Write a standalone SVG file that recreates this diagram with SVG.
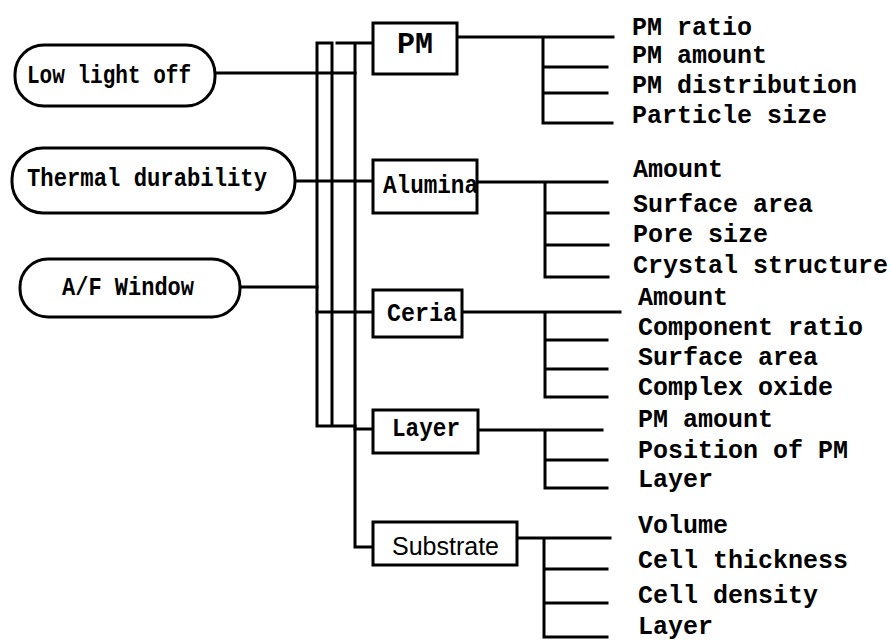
<svg xmlns="http://www.w3.org/2000/svg" width="891" height="641" viewBox="0 0 891 641">
<style>
.ln{fill:none;stroke:#000;stroke-width:3;stroke-linecap:square}
.bx{fill:#fff;stroke:#000;stroke-width:3}
.t{font-family:"Liberation Mono",monospace;fill:#000;font-weight:bold}
.r{font-size:25px}
.l{font-size:26px}
.s{font-family:"Liberation Sans",Arial,sans-serif;font-size:25px;fill:#000}
</style>
<rect width="891" height="641" fill="#fff"/>
<g id="connectors">
<path class="ln" d="M215,73H355M295,181H373M240,287H317M317,312H373"/>
<path class="ln" d="M317,426V43H332V426M317,426H355M355,429H373"/>
<path class="ln" d="M337,43H373M355,43V547H373"/>
<path class="ln" d="M457,37H613M543,37V123M543,67H607M543,93H607M543,123H612"/>
<path class="ln" d="M477,182H607M545,182V277M545,213H608M545,245H608M545,277H608"/>
<path class="ln" d="M462,312H620M545,312V397M545,340H607M545,369H607M545,397H607"/>
<path class="ln" d="M478,430H602M545,430V488M545,460H607M545,488H607"/>
<path class="ln" d="M517,538H610M544,538V637M544,569H607M544,603H607M544,637H607"/>
</g>
<g id="low-light-off">
<rect class="bx" x="15" y="45" width="200" height="61" rx="29"/>
<text class="t l" x="27" y="83" textLength="164" lengthAdjust="spacingAndGlyphs">Low light off</text>
</g>
<g id="thermal-durability">
<rect class="bx" x="12" y="148" width="283" height="65" rx="31"/>
<text class="t l" x="27" y="186" textLength="240" lengthAdjust="spacingAndGlyphs">Thermal durability</text>
</g>
<g id="af-window">
<rect class="bx" x="20" y="259" width="220" height="58" rx="28"/>
<text class="t l" x="62" y="295" textLength="132" lengthAdjust="spacingAndGlyphs">A/F Window</text>
</g>
<g id="pm">
<rect class="bx" x="373" y="23" width="84" height="51"/>
<text class="t" font-size="30" x="397" y="53" textLength="36" lengthAdjust="spacingAndGlyphs">PM</text>
</g>
<g id="alumina">
<rect class="bx" x="373" y="160" width="104" height="53"/>
<text class="t l" x="383" y="193" textLength="95" lengthAdjust="spacingAndGlyphs">Alumina</text>
</g>
<g id="ceria">
<rect class="bx" x="373" y="290" width="89" height="47"/>
<text class="t l" x="387" y="321" textLength="70" lengthAdjust="spacingAndGlyphs">Ceria</text>
</g>
<g id="layer">
<rect class="bx" x="373" y="410" width="105" height="43"/>
<text class="t l" x="392" y="436" textLength="68" lengthAdjust="spacingAndGlyphs">Layer</text>
</g>
<g id="substrate">
<rect class="bx" x="373" y="522" width="144" height="43"/>
<text class="s" x="392" y="555">Substrate</text>
</g>
<g id="pm-items" class="t r">
<text x="632" y="35">PM ratio</text>
<text x="632" y="63">PM amount</text>
<text x="632" y="93">PM distribution</text>
<text x="632" y="123">Particle size</text>
</g>
<g id="alumina-items" class="t r">
<text x="633" y="177">Amount</text>
<text x="633" y="212">Surface area</text>
<text x="633" y="242">Pore size</text>
<text x="633" y="273">Crystal structure</text>
</g>
<g id="ceria-items" class="t r">
<text x="638" y="305">Amount</text>
<text x="638" y="335">Component ratio</text>
<text x="638" y="365">Surface area</text>
<text x="638" y="395">Complex oxide</text>
</g>
<g id="layer-items" class="t r">
<text x="638" y="427">PM amount</text>
<text x="638" y="458">Position of PM</text>
<text x="638" y="487">Layer</text>
</g>
<g id="substrate-items" class="t r">
<text x="638" y="533">Volume</text>
<text x="638" y="568">Cell thickness</text>
<text x="638" y="603">Cell density</text>
<text x="638" y="634">Layer</text>
</g>
</svg>
